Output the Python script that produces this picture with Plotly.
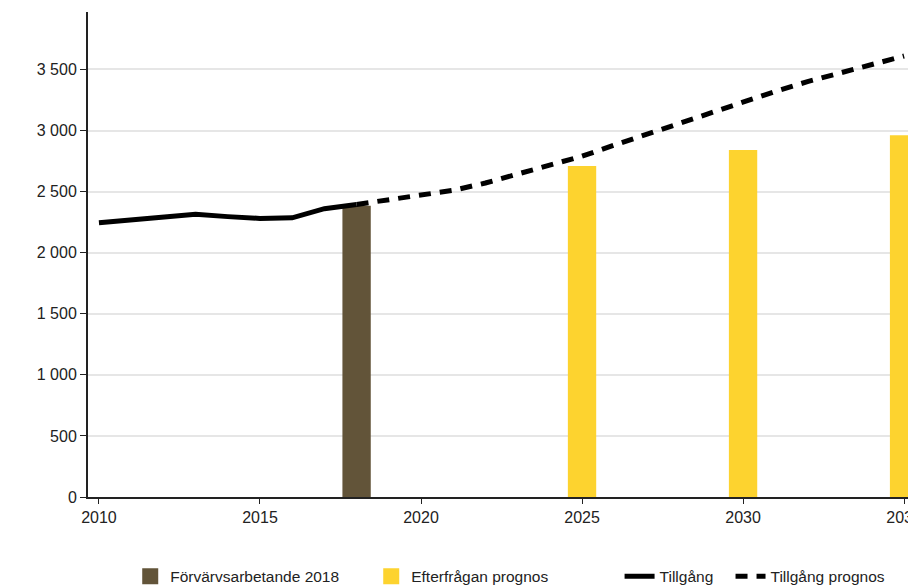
import plotly.graph_objects as go

# Historik (Tillgång) och prognos
hist_years = [2010, 2011, 2012, 2013, 2014, 2015, 2016, 2017, 2018]
hist_values = [2245, 2270, 2295, 2315, 2295, 2280, 2285, 2360, 2395]

prog_years = list(range(2018, 2036))
prog_values = [2395, 2430, 2465, 2510, 2570, 2640, 2710, 2790, 2880,
               2970, 3060, 3150, 3240, 3320, 3400, 3470, 3540, 3610]

# Staplar
employed_year = [2018]
employed_value = [2385]
demand_years = [2025, 2030, 2035]
demand_values = [2710, 2840, 2962]

BROWN = "#625439"
YELLOW = "#FDD32F"
FONT = "Liberation Sans, Arial, sans-serif"

fig = go.Figure()

fig.add_trace(go.Bar(
    x=employed_year, y=employed_value,
    name="Förvärvsarbetande 2018",
    marker=dict(color=BROWN, line=dict(width=0)),
    width=0.88, showlegend=False,
))
fig.add_trace(go.Bar(
    x=demand_years, y=demand_values,
    name="Efterfrågan prognos",
    marker=dict(color=YELLOW, line=dict(width=0)),
    width=0.88, showlegend=False,
))
# legendrutor: större fyrkanter än barernas standardsymbol
for name, color in [("Förvärvsarbetande 2018", BROWN), ("Efterfrågan prognos", YELLOW)]:
    fig.add_trace(go.Scatter(
        x=[None], y=[None], mode="markers", name=name,
        marker=dict(symbol="square", size=16, color=color),
        legend="legend",
    ))

fig.add_trace(go.Scatter(
    x=hist_years, y=hist_values, mode="lines",
    name="Tillgång",
    line=dict(color="black", width=5),
    legend="legend2",
))
fig.add_trace(go.Scatter(
    x=prog_years, y=prog_values, mode="lines",
    name="Tillgång prognos",
    line=dict(color="black", width=5, dash="12px,9px"),
    legend="legend3",
))

legend_common = dict(
    orientation="h",
    xanchor="left", yanchor="top", y=-0.129,
    font=dict(size=15.5, color="#222"),
    traceorder="normal",
    bgcolor="rgba(0,0,0,0)",
)

# sidan har 8px marginal i webbläsaren -> kompensera
fig.update_layout(
    width=908, height=580,
    margin=dict(l=80, r=0, t=4, b=91, autoexpand=False),
    plot_bgcolor="white", paper_bgcolor="white",
    font=dict(family=FONT, size=16, color="#222"),
    separators=", ",
    barmode="overlay",
    xaxis=dict(
        range=[2009.66, 2035.37],
        tickvals=[2010, 2015, 2020, 2025, 2030, 2035],
        showgrid=False, zeroline=False,
        showline=True, linecolor="#222", linewidth=2,
        ticks="outside", ticklen=5, tickcolor="#222",
        tickfont=dict(size=16),
        ticklabeloverflow="allow",
        automargin=False,
    ),
    yaxis=dict(
        range=[0, 3970],
        tickvals=[0, 500, 1000, 1500, 2000, 2500, 3000, 3500],
        tickformat=",d",
        showgrid=True, gridcolor="#e6e6e6", gridwidth=1.5,
        zeroline=False,
        showline=True, linecolor="#222", linewidth=2,
        ticks="outside", ticklen=6, tickcolor="#222",
        tickfont=dict(size=16),
        automargin=False,
    ),
    legend=dict(legend_common, x=0.051, entrywidth=196),
    legend2=dict(legend_common, x=0.642),
    legend3=dict(legend_common, x=0.776),
)

fig.write_html("out.html")
